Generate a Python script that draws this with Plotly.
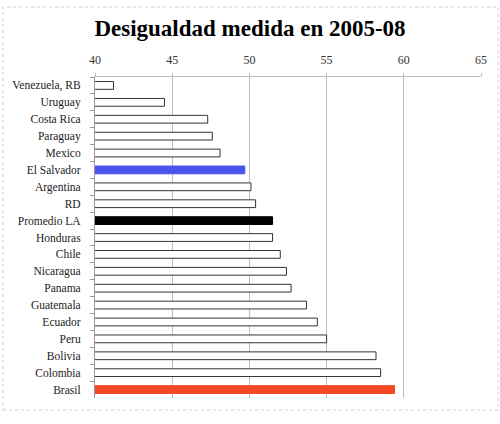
import plotly.graph_objects as go

# Desigualdad (Gini) 2005-08, orden de arriba hacia abajo
paises = [
    "Venezuela, RB", "Uruguay", "Costa Rica", "Paraguay", "Mexico",
    "El Salvador", "Argentina", "RD", "Promedio LA", "Honduras", "Chile",
    "Nicaragua", "Panama", "Guatemala", "Ecuador", "Peru", "Bolivia",
    "Colombia", "Brasil",
]
gini = [
    41.2, 44.5, 47.3, 47.6, 48.1,
    49.7, 50.1, 50.4, 51.5, 51.5, 52.0,
    52.4, 52.7, 53.7, 54.4, 55.0, 58.2,
    58.5, 59.4,
]
x_ticks = [40, 45, 50, 55, 60, 65]

destacados = {"El Salvador": "#4a55f0", "Promedio LA": "#000000", "Brasil": "#f24a25"}

fill = [destacados.get(p, "#ffffff") for p in paises]
line = [destacados.get(p, "#333333") for p in paises]

SERIF = "Liberation Serif, DejaVu Serif, serif"

fig = go.Figure()
fig.add_trace(go.Bar(
    y=paises, x=gini, orientation="h", width=0.46,
    marker=dict(color=fill, line=dict(color=line, width=1)),
    showlegend=False,
))

fig.update_layout(
    width=500, height=424,
    margin=dict(l=95, r=19, t=77, b=26),
    paper_bgcolor="white", plot_bgcolor="white",
    title=dict(text="<b>Desigualdad medida en 2005-08</b>", x=0.5, xanchor="center",
               y=1 - 28 / 424, yanchor="middle",
               font=dict(family=SERIF, size=23, color="#000000")),
    font=dict(family=SERIF, color="#222222"),
    xaxis=dict(
        side="top", range=[40, 65], tickvals=x_ticks, automargin=False,
        showgrid=True, gridcolor="#bdbdbd", gridwidth=1,
        showline=True, linecolor="#bdbdbd", linewidth=1,
        ticks="outside", ticklen=3, tickcolor="#bdbdbd", ticklabelstandoff=4,
        tickfont=dict(size=12, color="#333333"), zeroline=False,
    ),
    yaxis=dict(
        autorange="reversed", tickson="boundaries", automargin=False,
        showline=True, linecolor="#9a9a9a", linewidth=1,
        ticks="outside", ticklen=4, tickcolor="#9a9a9a", ticklabelstandoff=11,
        tickfont=dict(size=11.5, color="#222222"), showgrid=False,
    ),
    shapes=[dict(
        type="rect", xref="paper", yref="paper",
        x0=(3 - 95) / 386, x1=(498 - 95) / 386,
        y0=(398 - 410) / 321, y1=(398 - 7) / 321,
        line=dict(color="#d0d0d0", width=1, dash="dot"), layer="below",
    )],
)

# the page body has a default 8px margin; drop it so the figure sits at 0,0
fig.write_html("out.html", config={"staticPlot": True},
               post_script="document.body.style.margin='0';")
